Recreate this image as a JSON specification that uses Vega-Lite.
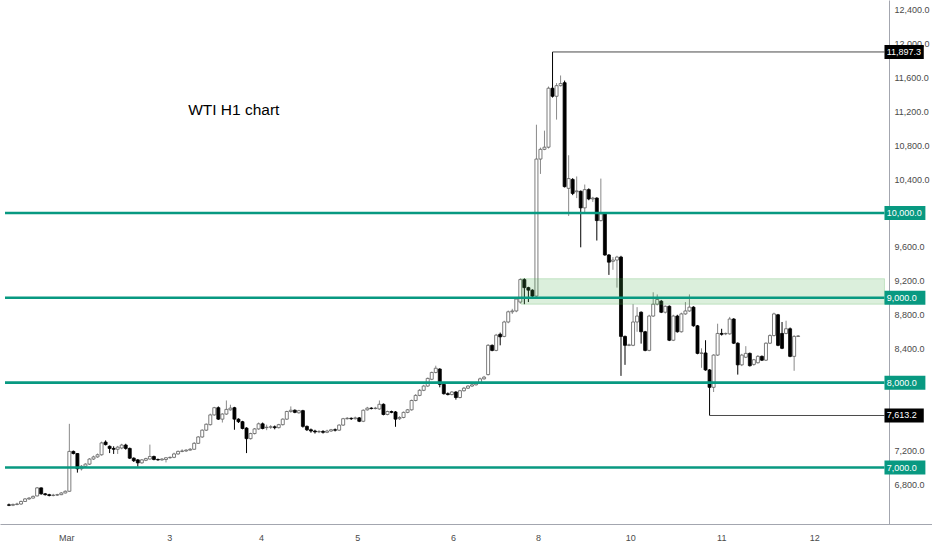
{
  "$schema": "https://vega.github.io/schema/vega-lite/v6.json",
  "width": 932,
  "height": 524,
  "autosize": {"type": "none"},
  "padding": {"left": 0, "top": 0, "right": 0, "bottom": 26},
  "background": "#ffffff",
  "datasets": {
    "candles": [
      {"i": 0, "open": 6560, "high": 6575, "low": 6545, "close": 6555},
      {"i": 1, "open": 6555, "high": 6575, "low": 6545, "close": 6565},
      {"i": 2, "open": 6565, "high": 6585, "low": 6555, "close": 6570},
      {"i": 3, "open": 6570, "high": 6610, "low": 6560, "close": 6600},
      {"i": 4, "open": 6600, "high": 6640, "low": 6595, "close": 6630},
      {"i": 5, "open": 6630, "high": 6650, "low": 6620, "close": 6640},
      {"i": 6, "open": 6640, "high": 6670, "low": 6635, "close": 6660},
      {"i": 7, "open": 6665, "high": 6770, "low": 6660, "close": 6760},
      {"i": 8, "open": 6760, "high": 6765, "low": 6680, "close": 6690},
      {"i": 9, "open": 6690, "high": 6700, "low": 6670, "close": 6680},
      {"i": 10, "open": 6680, "high": 6690, "low": 6660, "close": 6670},
      {"i": 11, "open": 6670, "high": 6690, "low": 6660, "close": 6675},
      {"i": 12, "open": 6675, "high": 6690, "low": 6665, "close": 6680},
      {"i": 13, "open": 6680, "high": 6710, "low": 6675, "close": 6700},
      {"i": 14, "open": 6700, "high": 6730, "low": 6695, "close": 6720},
      {"i": 15, "open": 6720, "high": 7515, "low": 6715, "close": 7190},
      {"i": 16, "open": 7190, "high": 7200, "low": 7155, "close": 7165},
      {"i": 17, "open": 7165, "high": 7170, "low": 6940, "close": 6985},
      {"i": 18, "open": 6985, "high": 7030, "low": 6965, "close": 7015},
      {"i": 19, "open": 7015, "high": 7050, "low": 7000, "close": 7040},
      {"i": 20, "open": 7040, "high": 7110, "low": 7030, "close": 7100},
      {"i": 21, "open": 7100, "high": 7140, "low": 7090, "close": 7125},
      {"i": 22, "open": 7125, "high": 7165, "low": 7115, "close": 7150},
      {"i": 23, "open": 7150, "high": 7305, "low": 7140, "close": 7290},
      {"i": 24, "open": 7300, "high": 7320, "low": 7260, "close": 7270},
      {"i": 25, "open": 7250, "high": 7260, "low": 7170, "close": 7225},
      {"i": 26, "open": 7225, "high": 7250, "low": 7160, "close": 7215},
      {"i": 27, "open": 7215, "high": 7255, "low": 7160, "close": 7240},
      {"i": 28, "open": 7230, "high": 7280, "low": 7215, "close": 7265},
      {"i": 29, "open": 7265, "high": 7280, "low": 7210, "close": 7225},
      {"i": 30, "open": 7225, "high": 7235, "low": 7100, "close": 7110},
      {"i": 31, "open": 7110, "high": 7120, "low": 7065, "close": 7080},
      {"i": 32, "open": 7090, "high": 7100, "low": 7010, "close": 7055},
      {"i": 33, "open": 7055, "high": 7100, "low": 7045, "close": 7090},
      {"i": 34, "open": 7085, "high": 7115, "low": 7075, "close": 7105},
      {"i": 35, "open": 7100, "high": 7270, "low": 7095, "close": 7130},
      {"i": 36, "open": 7130, "high": 7140, "low": 7085, "close": 7095},
      {"i": 37, "open": 7095, "high": 7105, "low": 7080, "close": 7090},
      {"i": 38, "open": 7090, "high": 7110, "low": 7080, "close": 7100},
      {"i": 39, "open": 7095, "high": 7120, "low": 7060, "close": 7115},
      {"i": 40, "open": 7115, "high": 7130, "low": 7105, "close": 7120},
      {"i": 41, "open": 7120, "high": 7175, "low": 7110, "close": 7160},
      {"i": 42, "open": 7160, "high": 7200, "low": 7150, "close": 7190},
      {"i": 43, "open": 7190, "high": 7215, "low": 7180, "close": 7195},
      {"i": 44, "open": 7195, "high": 7215, "low": 7185, "close": 7205},
      {"i": 45, "open": 7205, "high": 7230, "low": 7200, "close": 7215},
      {"i": 46, "open": 7215, "high": 7300, "low": 7210, "close": 7285},
      {"i": 47, "open": 7285, "high": 7370, "low": 7280, "close": 7360},
      {"i": 48, "open": 7360, "high": 7450, "low": 7350, "close": 7440},
      {"i": 49, "open": 7440, "high": 7520, "low": 7430, "close": 7510},
      {"i": 50, "open": 7505, "high": 7635, "low": 7495, "close": 7620},
      {"i": 51, "open": 7620, "high": 7715, "low": 7610, "close": 7705},
      {"i": 52, "open": 7705, "high": 7720, "low": 7560, "close": 7570},
      {"i": 53, "open": 7570, "high": 7640, "low": 7530, "close": 7630},
      {"i": 54, "open": 7630, "high": 7790, "low": 7620, "close": 7685},
      {"i": 55, "open": 7680, "high": 7740, "low": 7670, "close": 7700},
      {"i": 56, "open": 7705, "high": 7715, "low": 7445, "close": 7570},
      {"i": 57, "open": 7570, "high": 7580, "low": 7525, "close": 7540},
      {"i": 58, "open": 7540, "high": 7550, "low": 7450, "close": 7460},
      {"i": 59, "open": 7465, "high": 7475, "low": 7170, "close": 7340},
      {"i": 60, "open": 7340, "high": 7410, "low": 7330, "close": 7400},
      {"i": 61, "open": 7400, "high": 7465, "low": 7390, "close": 7455},
      {"i": 62, "open": 7455, "high": 7530, "low": 7445, "close": 7515},
      {"i": 63, "open": 7515, "high": 7530, "low": 7450, "close": 7460},
      {"i": 64, "open": 7470, "high": 7505, "low": 7440, "close": 7475},
      {"i": 65, "open": 7475, "high": 7500, "low": 7455, "close": 7480},
      {"i": 66, "open": 7480, "high": 7495, "low": 7450, "close": 7470},
      {"i": 67, "open": 7470, "high": 7515, "low": 7460, "close": 7505},
      {"i": 68, "open": 7505, "high": 7580, "low": 7495, "close": 7570},
      {"i": 69, "open": 7570, "high": 7670, "low": 7560, "close": 7660},
      {"i": 70, "open": 7660, "high": 7720, "low": 7645, "close": 7675},
      {"i": 71, "open": 7675, "high": 7685, "low": 7640, "close": 7650},
      {"i": 72, "open": 7645, "high": 7680, "low": 7635, "close": 7670},
      {"i": 73, "open": 7670, "high": 7680, "low": 7470, "close": 7485},
      {"i": 74, "open": 7485, "high": 7495, "low": 7430, "close": 7445},
      {"i": 75, "open": 7445, "high": 7460, "low": 7410, "close": 7430},
      {"i": 76, "open": 7430, "high": 7445, "low": 7400, "close": 7420},
      {"i": 77, "open": 7420, "high": 7440, "low": 7405, "close": 7425},
      {"i": 78, "open": 7425, "high": 7440, "low": 7400, "close": 7415},
      {"i": 79, "open": 7415, "high": 7445, "low": 7405, "close": 7430},
      {"i": 80, "open": 7430, "high": 7455, "low": 7420, "close": 7445},
      {"i": 81, "open": 7445, "high": 7460, "low": 7425, "close": 7440},
      {"i": 82, "open": 7440, "high": 7510, "low": 7430, "close": 7500},
      {"i": 83, "open": 7500, "high": 7585, "low": 7490, "close": 7575},
      {"i": 84, "open": 7575, "high": 7595, "low": 7565, "close": 7580},
      {"i": 85, "open": 7580, "high": 7590, "low": 7560, "close": 7575},
      {"i": 86, "open": 7575, "high": 7600, "low": 7565, "close": 7585},
      {"i": 87, "open": 7585, "high": 7595, "low": 7535, "close": 7545},
      {"i": 88, "open": 7545, "high": 7685, "low": 7535, "close": 7675},
      {"i": 89, "open": 7680, "high": 7715, "low": 7670, "close": 7700},
      {"i": 90, "open": 7700, "high": 7710, "low": 7685, "close": 7695},
      {"i": 91, "open": 7695, "high": 7715, "low": 7685, "close": 7700},
      {"i": 92, "open": 7690, "high": 7790, "low": 7680, "close": 7745},
      {"i": 93, "open": 7745, "high": 7755, "low": 7615, "close": 7625},
      {"i": 94, "open": 7625, "high": 7670, "low": 7615, "close": 7660},
      {"i": 95, "open": 7660, "high": 7670, "low": 7640, "close": 7650},
      {"i": 96, "open": 7655, "high": 7665, "low": 7480, "close": 7570},
      {"i": 97, "open": 7575, "high": 7605, "low": 7560, "close": 7590},
      {"i": 98, "open": 7590, "high": 7660, "low": 7580, "close": 7650},
      {"i": 99, "open": 7650, "high": 7690, "low": 7640, "close": 7680},
      {"i": 100, "open": 7680, "high": 7800, "low": 7670, "close": 7790},
      {"i": 101, "open": 7790, "high": 7865, "low": 7780, "close": 7850},
      {"i": 102, "open": 7850, "high": 7925, "low": 7840, "close": 7910},
      {"i": 103, "open": 7910, "high": 7975, "low": 7900, "close": 7960},
      {"i": 104, "open": 7960, "high": 8060, "low": 7950, "close": 8050},
      {"i": 105, "open": 8040, "high": 8130, "low": 8030, "close": 8120},
      {"i": 106, "open": 8120, "high": 8200, "low": 8110, "close": 8170},
      {"i": 107, "open": 8160, "high": 8170, "low": 7945, "close": 7980},
      {"i": 108, "open": 7980, "high": 7990, "low": 7860, "close": 7870},
      {"i": 109, "open": 7870, "high": 7885, "low": 7850, "close": 7860},
      {"i": 110, "open": 7860, "high": 7900, "low": 7850, "close": 7890},
      {"i": 111, "open": 7890, "high": 7900, "low": 7800, "close": 7825},
      {"i": 112, "open": 7825, "high": 7915, "low": 7815, "close": 7905},
      {"i": 113, "open": 7905, "high": 7950, "low": 7895, "close": 7935},
      {"i": 114, "open": 7935, "high": 7970, "low": 7925, "close": 7960},
      {"i": 115, "open": 7960, "high": 7990, "low": 7950, "close": 7975},
      {"i": 116, "open": 7975, "high": 8010, "low": 7965, "close": 7995},
      {"i": 117, "open": 7995, "high": 8060, "low": 7985, "close": 8045},
      {"i": 118, "open": 8045, "high": 8080, "low": 8035, "close": 8065},
      {"i": 119, "open": 8095, "high": 8455, "low": 8085, "close": 8440},
      {"i": 120, "open": 8440, "high": 8450, "low": 8370, "close": 8380},
      {"i": 121, "open": 8380, "high": 8575, "low": 8370, "close": 8560},
      {"i": 122, "open": 8570, "high": 8590, "low": 8440, "close": 8540},
      {"i": 123, "open": 8545, "high": 8730, "low": 8535, "close": 8715},
      {"i": 124, "open": 8715, "high": 8850, "low": 8700, "close": 8835},
      {"i": 125, "open": 8835, "high": 8870, "low": 8810, "close": 8845},
      {"i": 126, "open": 8845, "high": 9000, "low": 8830, "close": 8985},
      {"i": 127, "open": 8950, "high": 9230, "low": 8930, "close": 9215},
      {"i": 128, "open": 9215, "high": 9230, "low": 8925, "close": 9120},
      {"i": 129, "open": 9120, "high": 9130, "low": 8950, "close": 9090},
      {"i": 130, "open": 9090, "high": 9100, "low": 9010, "close": 9020},
      {"i": 131, "open": 9020, "high": 11040, "low": 9010, "close": 10635},
      {"i": 132, "open": 10635, "high": 10770, "low": 10460, "close": 10750},
      {"i": 133, "open": 10750, "high": 10970, "low": 10740, "close": 10775},
      {"i": 134, "open": 10775, "high": 11490, "low": 10760, "close": 11470},
      {"i": 135, "open": 11470, "high": 11897.3, "low": 11360, "close": 11375},
      {"i": 136, "open": 11375, "high": 11530, "low": 11100, "close": 11500},
      {"i": 137, "open": 11500, "high": 11620, "low": 11490, "close": 11525},
      {"i": 138, "open": 11535, "high": 11560, "low": 10300, "close": 10310},
      {"i": 139, "open": 10290, "high": 10680, "low": 9965, "close": 10405},
      {"i": 140, "open": 10395, "high": 10410, "low": 10210, "close": 10230},
      {"i": 141, "open": 10250, "high": 10430, "low": 10175, "close": 10260},
      {"i": 142, "open": 10255, "high": 10265, "low": 9595, "close": 10060},
      {"i": 143, "open": 10060, "high": 10335, "low": 9990, "close": 10275},
      {"i": 144, "open": 10275, "high": 10290, "low": 10150, "close": 10165},
      {"i": 145, "open": 10165, "high": 10190, "low": 10130, "close": 10175},
      {"i": 146, "open": 10175, "high": 10185, "low": 9675, "close": 9910},
      {"i": 147, "open": 9910, "high": 10405, "low": 9900, "close": 9990},
      {"i": 148, "open": 9990, "high": 10000, "low": 9495, "close": 9505},
      {"i": 149, "open": 9505, "high": 9515, "low": 9270, "close": 9420},
      {"i": 150, "open": 9430, "high": 9480, "low": 9330, "close": 9445},
      {"i": 151, "open": 9445, "high": 9495, "low": 9120, "close": 9480},
      {"i": 152, "open": 9480, "high": 9495, "low": 8080, "close": 8545},
      {"i": 153, "open": 8545, "high": 8555, "low": 8210, "close": 8440},
      {"i": 154, "open": 8440, "high": 8460, "low": 8430, "close": 8445},
      {"i": 155, "open": 8440, "high": 8925, "low": 8430, "close": 8715},
      {"i": 156, "open": 8715, "high": 8890, "low": 8600, "close": 8785},
      {"i": 157, "open": 8830, "high": 8840, "low": 8460, "close": 8600},
      {"i": 158, "open": 8600, "high": 8610, "low": 8370, "close": 8380},
      {"i": 159, "open": 8380, "high": 8800, "low": 8370, "close": 8785},
      {"i": 160, "open": 8785, "high": 9065, "low": 8775, "close": 8925},
      {"i": 161, "open": 8925, "high": 9040, "low": 8910, "close": 8980},
      {"i": 162, "open": 8960, "high": 8975, "low": 8820, "close": 8830},
      {"i": 163, "open": 8830, "high": 8910, "low": 8815, "close": 8900},
      {"i": 164, "open": 8900, "high": 8910, "low": 8490, "close": 8500},
      {"i": 165, "open": 8500, "high": 8800, "low": 8490, "close": 8785},
      {"i": 166, "open": 8785, "high": 8800, "low": 8590, "close": 8600},
      {"i": 167, "open": 8600, "high": 8825, "low": 8590, "close": 8810},
      {"i": 168, "open": 8810, "high": 8950, "low": 8800, "close": 8845},
      {"i": 169, "open": 8845, "high": 9040, "low": 8835, "close": 8890},
      {"i": 170, "open": 8890, "high": 8900, "low": 8660, "close": 8670},
      {"i": 171, "open": 8670, "high": 8680, "low": 8335, "close": 8345},
      {"i": 172, "open": 8345, "high": 8405, "low": 8175, "close": 8350},
      {"i": 173, "open": 8350, "high": 8500, "low": 8140, "close": 8150},
      {"i": 174, "open": 8150, "high": 8160, "low": 7613.2, "close": 7945},
      {"i": 175, "open": 7945, "high": 8335, "low": 7890, "close": 8325},
      {"i": 176, "open": 8325, "high": 8695, "low": 8315, "close": 8580},
      {"i": 177, "open": 8580, "high": 8635, "low": 8555, "close": 8570},
      {"i": 178, "open": 8575, "high": 8590, "low": 8560, "close": 8580},
      {"i": 179, "open": 8575, "high": 8775, "low": 8565, "close": 8750},
      {"i": 180, "open": 8750, "high": 8760, "low": 8455, "close": 8465},
      {"i": 181, "open": 8465, "high": 8475, "low": 8095, "close": 8210},
      {"i": 182, "open": 8210, "high": 8340, "low": 8195, "close": 8325},
      {"i": 183, "open": 8300, "high": 8430, "low": 8290, "close": 8345},
      {"i": 184, "open": 8345, "high": 8355, "low": 8190, "close": 8200},
      {"i": 185, "open": 8215, "high": 8280, "low": 8200, "close": 8270},
      {"i": 186, "open": 8235, "high": 8325, "low": 8225, "close": 8310},
      {"i": 187, "open": 8310, "high": 8320, "low": 8255, "close": 8265},
      {"i": 188, "open": 8265, "high": 8475, "low": 8255, "close": 8465},
      {"i": 189, "open": 8465, "high": 8570, "low": 8455, "close": 8555},
      {"i": 190, "open": 8555, "high": 8825, "low": 8545, "close": 8810},
      {"i": 191, "open": 8800, "high": 8810, "low": 8430, "close": 8440},
      {"i": 192, "open": 8580, "high": 8715, "low": 8395, "close": 8405},
      {"i": 193, "open": 8580, "high": 8730, "low": 8570, "close": 8635},
      {"i": 194, "open": 8635, "high": 8650, "low": 8300, "close": 8310},
      {"i": 195, "open": 8310, "high": 8560, "low": 8140, "close": 8545},
      {"i": 196, "open": 8545, "high": 8560, "low": 8540, "close": 8550}
    ],
    "levels": [
      {"price": 10000, "label": "10,000.0"},
      {"price": 9000, "label": "9,000.0"},
      {"price": 8000, "label": "8,000.0"},
      {"price": 7000, "label": "7,000.0"}
    ],
    "extremes": [
      {"bar": 135, "price": 11897.3, "label": "11,897.3"},
      {"bar": 174, "price": 7613.2, "label": "7,613.2"}
    ],
    "zone": [
      {"bar": 127.2, "low": 8925, "high": 9225}
    ]
  },
  "layer": [
    {
      "data": {"name": "candles"},
      "mark": {"type": "rule", "strokeWidth": 1},
      "encoding": {
        "x": {
          "field": "i",
          "type": "quantitative",
          "scale": {"domain": [-0.983, 228.0], "nice": false, "zero": false},
          "axis": {
            "orient": "bottom",
            "title": null,
            "grid": false,
            "ticks": false,
            "values": [14.25, 39.8, 62.6, 86.5, 110.3, 131.4, 154.3, 176.9, 200],
            "labelExpr": "datum.value < 20 ? 'Mar' : datum.value < 50 ? '3' : datum.value < 70 ? '4' : datum.value < 95 ? '5' : datum.value < 120 ? '6' : datum.value < 140 ? '8' : datum.value < 165 ? '10' : datum.value < 190 ? '11' : '12'",
            "labelPadding": 9,
            "labelFlush": false
          }
        },
        "y": {
          "field": "low",
          "type": "quantitative",
          "scale": {"domain": [6393.3, 12450.7], "nice": false, "zero": false},
          "axis": {
            "orient": "right",
            "offset": -43,
            "title": null,
            "grid": false,
            "ticks": false,
            "values": [6800, 7200, 8400, 8800, 9200, 9600, 10400, 10800, 11200, 11600, 12000, 12400],
            "format": ",.1f",
            "labelPadding": 5,
            "labelOverlap": false,
            "labelFlush": false
          }
        },
        "y2": {"field": "high"},
        "color": {
          "condition": {"test": "datum.close >= datum.open", "value": "#8a8a8a"},
          "value": "#000000"
        }
      }
    },
    {
      "data": {"name": "candles"},
      "mark": {"type": "bar", "size": 3, "strokeWidth": 0.8},
      "encoding": {
        "x": {"field": "i", "type": "quantitative"},
        "y": {"field": "open", "type": "quantitative"},
        "y2": {"field": "close"},
        "fill": {
          "condition": {"test": "datum.close >= datum.open", "value": "#ffffff"},
          "value": "#000000"
        },
        "stroke": {
          "condition": {"test": "datum.close >= datum.open", "value": "#5c5c5c"},
          "value": "#000000"
        }
      }
    },
    {
      "data": {"name": "zone"},
      "mark": {"type": "rect", "fill": "#4caf50", "fillOpacity": 0.2, "stroke": "#4caf50", "strokeOpacity": 0.25, "strokeWidth": 1},
      "encoding": {
        "x": {"field": "bar", "type": "quantitative"},
        "x2": {"datum": 217.44},
        "y": {"field": "low", "type": "quantitative"},
        "y2": {"field": "high"}
      }
    },
    {
      "data": {"name": "levels"},
      "mark": {"type": "rule", "color": "#089981", "strokeWidth": 2.6},
      "encoding": {
        "x": {"datum": -0.983},
        "x2": {"datum": 217.44},
        "y": {"field": "price", "type": "quantitative"}
      }
    },
    {
      "data": {"name": "extremes"},
      "mark": {"type": "rule", "color": "#4a4a4a", "strokeWidth": 1},
      "encoding": {
        "x": {"field": "bar", "type": "quantitative"},
        "x2": {"datum": 217.44},
        "y": {"field": "price", "type": "quantitative"}
      }
    },
    {
      "data": {"name": "levels"},
      "mark": {"type": "bar", "orient": "horizontal", "size": 14, "color": "#089981"},
      "encoding": {
        "x": {"datum": 217.44},
        "x2": {"datum": 227.6},
        "y": {"field": "price", "type": "quantitative"}
      }
    },
    {
      "data": {"name": "extremes"},
      "mark": {"type": "bar", "orient": "horizontal", "size": 14, "color": "#000000"},
      "encoding": {
        "x": {"datum": 217.44},
        "x2": {"datum": 227.2},
        "y": {"field": "price", "type": "quantitative"}
      }
    },
    {
      "data": {"name": "levels"},
      "mark": {"type": "text", "align": "left", "baseline": "middle", "color": "#ffffff", "fontSize": 9, "font": "Liberation Sans"},
      "encoding": {
        "x": {"datum": 218.0},
        "y": {"field": "price", "type": "quantitative"},
        "text": {"field": "label"}
      }
    },
    {
      "data": {"name": "extremes"},
      "mark": {"type": "text", "align": "left", "baseline": "middle", "color": "#ffffff", "fontSize": 9, "font": "Liberation Sans"},
      "encoding": {
        "x": {"datum": 218.0},
        "y": {"field": "price", "type": "quantitative"},
        "text": {"field": "label"}
      }
    },
    {
      "data": {"values": [{"label": "WTI H1 chart"}]},
      "mark": {"type": "text", "align": "left", "baseline": "middle", "color": "#000000", "fontSize": 15.5, "font": "Liberation Sans"},
      "encoding": {
        "x": {"datum": 44.5},
        "y": {"datum": 11214},
        "text": {"field": "label"}
      }
    }
  ],
  "config": {
    "view": {"stroke": null},
    "axis": {
      "domainColor": "#a3a6af",
      "domainWidth": 1,
      "labelColor": "#4a4a4a",
      "labelFontSize": 9,
      "labelFont": "Liberation Sans"
    }
  }
}
